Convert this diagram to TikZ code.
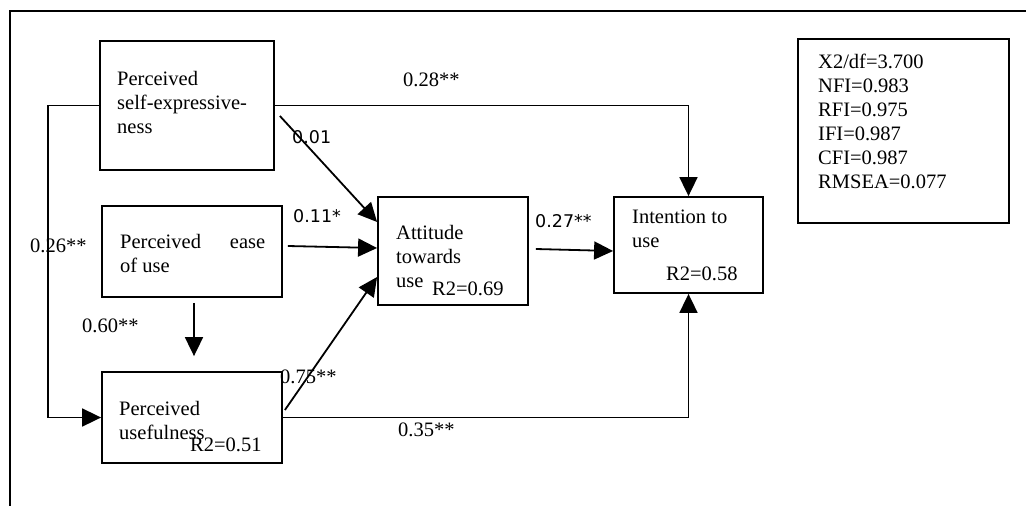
\documentclass[tikz,border=0pt]{standalone}
\usepackage{fontspec}
\setmainfont{Liberation Serif}
\newfontfamily\labsans{DejaVu Sans}
\usetikzlibrary{arrows.meta, positioning, calc}

\begin{document}
\begin{tikzpicture}[
    x=1pt, y=-1pt,
    box/.style={draw, line width=1.8pt, inner sep=0pt},
    txt/.style={anchor=north west, inner sep=0pt, align=left, font=\fontsize{20.5}{24}\selectfont},
    coef/.style={anchor=base west, inner sep=0pt, font=\fontsize{20.5}{24}\selectfont},
    scoef/.style={anchor=base west, inner sep=0pt, font=\labsans\fontsize{17.5}{21}\selectfont},
    arr/.style={-{Triangle[length=19pt, width=18pt]}, line width=1.8pt},
    conn/.style={line width=1.8pt}
]
    \useasboundingbox (0,0) rectangle (1026,506);

    % Frame
    \draw[conn] (10,506) -- (10,11) -- (1026,11);

    % Constructs
    \node[box, minimum width=174pt, minimum height=129pt] (pse) at (187, 105.5) {};
    \node[box, minimum width=180pt, minimum height=91pt] (peou) at (192, 251.5) {};
    \node[box, minimum width=180pt, minimum height=91pt] (pu) at (192, 417.5) {};
    \node[box, minimum width=150pt, minimum height=108pt] (atu) at (453, 251) {};
    \node[box, minimum width=149pt, minimum height=96pt] (itu) at (688.5, 245) {};

    \node[txt] (pset) at (117, 71) {Perceived\\self-expressive-\\ness};
    \node[txt] (peout) at (120, 234) {\makebox[145pt][s]{Perceived ease}\\of use};
    \node[txt] (put) at (119, 401) {Perceived\\usefulness};
    \node[txt] (atut) at (396, 225) {Attitude\\towards\\use};
    \node[txt] (itut) at (632, 210) {Intention to\\use};

    \node[coef] (pur2) at (190, 451) {R2=0.51};
    \node[coef] (atur2) at (432, 295) {R2=0.69};
    \node[coef] (itur2) at (666, 280) {R2=0.58};

    % Fit indices
    \node[box, minimum width=211pt, minimum height=184pt] (fit) at (903.5, 131) {};
    \node[txt] (fitt) at (818, 54) {X2/df=3.700\\NFI=0.983\\RFI=0.975\\IFI=0.987\\CFI=0.987\\RMSEA=0.077};

    % Paths
    \draw[arr] (pse.east) -| (itu.north);
    \draw[arr] (pse.west) -- ++(-51,0) |- (pu.west);
    \draw[arr] ([shift={(5,10.5)}]pse.east) -- ([yshift=29pt]atu.west);
    \draw[arr] ([shift={(5,-5.5)}]peou.east) -- ([yshift=3pt]atu.west);
    \draw[arr] ([shift={(2,5)}]peou.south) -- ([shift={(2,-15)}]pu.north);
    \draw[arr] ([shift={(2,-7.5)}]pu.east) -- ([yshift=-26pt]atu.west);
    \draw[arr] ([shift={(7,-2)}]atu.east) -- ([yshift=-6pt]itu.west);
    \draw[arr] (pu.east) -| (itu.south);

    % Coefficients
    \node[coef] (c1) at (403, 86.5) {0.28**};
    \node[scoef] (c2) at (292, 143) {0.01};
    \node[scoef] (c3) at (293, 222) {0.11*};
    \node[coef] (c4) at (30, 252) {0.26**};
    \node[coef] (c5) at (82, 332) {0.60**};
    \node[coef] (c6) at (280, 383) {0.75**};
    \node[coef] (c7) at (398, 436) {0.35**};
    \node[scoef] (c8) at (535, 227) {0.27**};
\end{tikzpicture}
\end{document}
